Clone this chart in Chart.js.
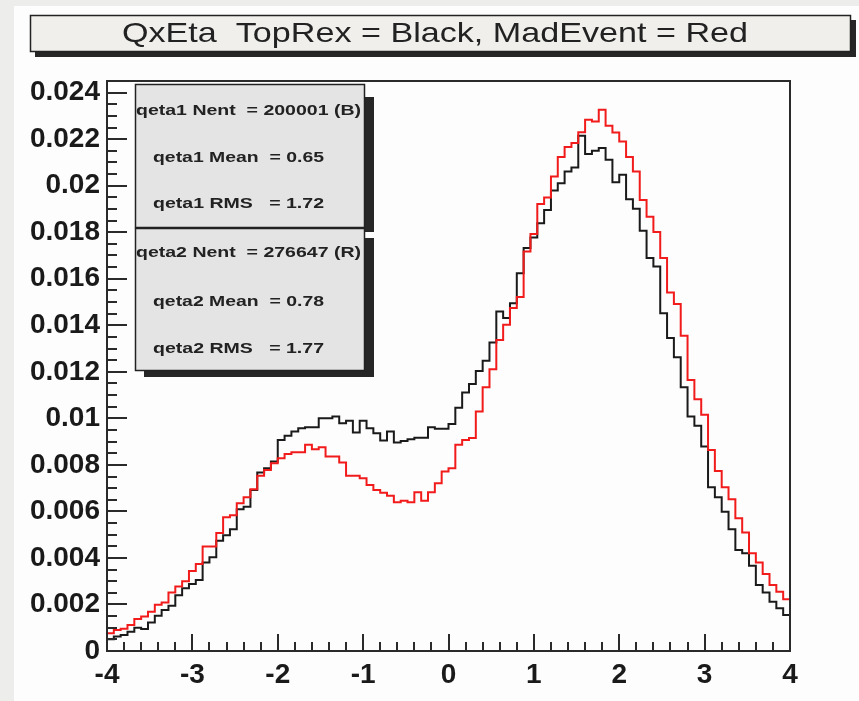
<!DOCTYPE html>
<html>
<head>
<meta charset="utf-8">
<script src="https://cdn.jsdelivr.net/npm/chart.js@4/dist/chart.umd.min.js"></script>
<style>
  html, body { margin: 0; padding: 0; background: #ededeb; }
  #wrap { width: 859px; height: 701px; }
  canvas { display: block; }
</style>
</head>
<body>
<div id="wrap"><canvas id="c" width="859" height="701"></canvas></div>
<script>
// Histogram binning of eta
const etaMin = -4;
const etaMax = 4;
const nBins = 100;

// qeta1 (TopRex, black) — bin contents, normalised
const qeta1 = [
  0.00050, 0.00062, 0.00069, 0.00083, 0.00100, 0.00095, 0.00122, 0.00152, 0.00176, 0.00195,
  0.00240, 0.00270, 0.00288, 0.00305, 0.00380, 0.00403, 0.00474, 0.00498, 0.00523, 0.00609,
  0.00620, 0.00692, 0.00767, 0.00786, 0.00814, 0.00907, 0.00925, 0.00943, 0.00957, 0.00962,
  0.00962, 0.01000, 0.01000, 0.01008, 0.00979, 0.00990, 0.00939, 0.00990, 0.00957, 0.00936,
  0.00905, 0.00943, 0.00896, 0.00903, 0.00910, 0.00917, 0.00917, 0.00962, 0.00955, 0.00955,
  0.00976, 0.01046, 0.01111, 0.01148, 0.01204, 0.01248, 0.01326, 0.01459, 0.01431, 0.01495,
  0.01624, 0.01732, 0.01777, 0.01839, 0.01896, 0.01979, 0.02011, 0.02061, 0.02078, 0.02215,
  0.02136, 0.02150, 0.02162, 0.02111, 0.02015, 0.02047, 0.01942, 0.01901, 0.01806, 0.01689,
  0.01653, 0.01452, 0.01345, 0.01263, 0.01134, 0.01008, 0.00968, 0.00879, 0.00704, 0.00661,
  0.00599, 0.00523, 0.00434, 0.00420, 0.00366, 0.00284, 0.00251, 0.00212, 0.00184, 0.00155
];

// qeta2 (MadEvent, red) — bin contents, normalised
const qeta2 = [
  0.00076, 0.00090, 0.00096, 0.00112, 0.00138, 0.00148, 0.00169, 0.00199, 0.00208, 0.00251,
  0.00277, 0.00300, 0.00344, 0.00374, 0.00449, 0.00449, 0.00507, 0.00575, 0.00584, 0.00635,
  0.00661, 0.00695, 0.00753, 0.00778, 0.00807, 0.00829, 0.00847, 0.00854, 0.00854, 0.00886,
  0.00867, 0.00876, 0.00836, 0.00836, 0.00810, 0.00753, 0.00753, 0.00743, 0.00714, 0.00692,
  0.00680, 0.00667, 0.00639, 0.00646, 0.00639, 0.00682, 0.00646, 0.00682, 0.00721, 0.00771,
  0.00786, 0.00886, 0.00907, 0.00915, 0.01029, 0.01134, 0.01211, 0.01337, 0.01402, 0.01474,
  0.01522, 0.01717, 0.01792, 0.01921, 0.01949, 0.02040, 0.02123, 0.02166, 0.02183, 0.02230,
  0.02283, 0.02276, 0.02326, 0.02258, 0.02229, 0.02190, 0.02123, 0.02061, 0.01939, 0.01867,
  0.01801, 0.01689, 0.01541, 0.01491, 0.01355, 0.01165, 0.01082, 0.01015, 0.00864, 0.00774,
  0.00704, 0.00652, 0.00571, 0.00509, 0.00420, 0.00380, 0.00331, 0.00284, 0.00255, 0.00222
];

// Axis settings
const yMax = 0.0245;
const yMajor = 0.002;
const yMinor = 0.0005;
const xMajor = 1;
const xMinor = 0.2;

// Text content
const titleText = 'QxEta  TopRex = Black, MadEvent = Red';
const stats1 = ['qeta1 Nent  = 200001 (B)', 'qeta1 Mean  = 0.65', 'qeta1 RMS   = 1.72'];
const stats2 = ['qeta2 Nent  = 276647 (R)', 'qeta2 Mean  = 0.78', 'qeta2 RMS   = 1.77'];

// Step points: left edge of each bin, plus the closing upper edge
function histPoints(vals) {
  const w = (etaMax - etaMin) / nBins;
  const pts = vals.map((v, i) => ({ x: etaMin + i * w, y: v }));
  pts.push({ x: etaMax, y: vals[vals.length - 1] });
  return pts;
}

const FONT = '"Liberation Sans", Arial, Helvetica, sans-serif';

function stretchedText(ctx, text, x, y, targetW, font, color, align) {
  ctx.save();
  ctx.font = font;
  ctx.fillStyle = color;
  ctx.textBaseline = 'middle';
  ctx.textAlign = 'left';
  const w = ctx.measureText(text).width;
  const sx = targetW / w;
  let left = x;
  if (align === 'center') left = x - targetW / 2;
  ctx.translate(left, y);
  ctx.scale(sx, 1);
  ctx.fillText(text, 0, 0);
  ctx.restore();
}

function panel(ctx, x0, y0, x1, y1, fill) {
  ctx.save();
  ctx.fillStyle = fill;
  ctx.fillRect(x0, y0, x1 - x0, y1 - y0);
  ctx.strokeStyle = '#222';
  ctx.lineWidth = 1.5;
  ctx.strokeRect(x0 + 0.5, y0 + 0.5, x1 - x0 - 1, y1 - y0 - 1);
  ctx.restore();
}

function shade(ctx, x0, y0, x1, y1) {
  ctx.save();
  ctx.fillStyle = '#262626';
  ctx.fillRect(x0, y0, x1 - x0, y1 - y0);
  ctx.restore();
}

const decorations = {
  id: 'decorations',
  beforeDraw(chart) {
    const ctx = chart.ctx;
    ctx.save();
    ctx.fillStyle = '#ededeb';
    ctx.fillRect(0, 0, chart.width, chart.height);
    ctx.fillStyle = '#fdfdfd';
    ctx.fillRect(14, 6, chart.width - 14, chart.height - 6);
    ctx.restore();
  },
  afterDatasetsDraw(chart) {
    const ctx = chart.ctx;
    const a = chart.chartArea;
    const xs = chart.scales.x, ys = chart.scales.y;
    ctx.save();
    ctx.strokeStyle = '#2a2a2a';
    ctx.lineWidth = 2;
    // frame
    ctx.strokeRect(a.left, a.top, a.right - a.left, a.bottom - a.top);
    // y ticks on the left edge, pointing inward
    ctx.beginPath();
    const nY = Math.round(yMax / yMinor);
    for (let k = 0; k <= nY; k++) {
      const v = k * yMinor;
      const py = Math.round(ys.getPixelForValue(v));
      const major = (k % Math.round(yMajor / yMinor)) === 0;
      const len = major ? 20 : 10;
      ctx.moveTo(a.left, py);
      ctx.lineTo(a.left + len, py);
    }
    // x ticks on the bottom edge, pointing up
    const nX = Math.round((etaMax - etaMin) / xMinor);
    for (let k = 0; k <= nX; k++) {
      const v = etaMin + k * xMinor;
      const px = Math.round(xs.getPixelForValue(v));
      const major = (k % Math.round(xMajor / xMinor)) === 0;
      const len = major ? 17 : 9;
      ctx.moveTo(px, a.bottom);
      ctx.lineTo(px, a.bottom - len);
    }
    ctx.stroke();
    ctx.restore();
  },
  afterDraw(chart) {
    const ctx = chart.ctx;
    // title box with drop shadow
    shade(ctx, 35, 20, 856, 57);
    panel(ctx, 30, 15, 851, 52, '#f0efec');
    stretchedText(ctx, titleText, 435, 34, 626, '28px ' + FONT, '#222', 'center');

    // statistics boxes with drop shadows
    shade(ctx, 144, 97, 374, 232);
    shade(ctx, 144, 238, 374, 377);
    panel(ctx, 135, 84, 365, 228, '#e4e4e4');
    panel(ctx, 135, 228, 365, 371, '#e4e4e4');
    const rows1 = [111, 158, 204];
    const rows2 = [253, 302, 349];
    const font = 'bold 15px ' + FONT;
    stretchedText(ctx, stats1[0], 136, rows1[0], 225, font, '#222', 'left');
    stretchedText(ctx, stats1[1], 153, rows1[1], 171, font, '#222', 'left');
    stretchedText(ctx, stats1[2], 153, rows1[2], 171, font, '#222', 'left');
    stretchedText(ctx, stats2[0], 136, rows2[0], 225, font, '#222', 'left');
    stretchedText(ctx, stats2[1], 153, rows2[1], 171, font, '#222', 'left');
    stretchedText(ctx, stats2[2], 153, rows2[2], 171, font, '#222', 'left');
  }
};

const ctx = document.getElementById('c').getContext('2d');
new Chart(ctx, {
  type: 'line',
  data: {
    datasets: [
      {
        label: 'qeta2',
        data: histPoints(qeta2),
        borderColor: '#f21b1b',
        borderWidth: 2,
        stepped: true,
        pointRadius: 0,
        fill: false
      },
      {
        label: 'qeta1',
        data: histPoints(qeta1),
        borderColor: '#1a1a1a',
        borderWidth: 2,
        stepped: true,
        pointRadius: 0,
        fill: false
      }
    ]
  },
  options: {
    responsive: false,
    animation: false,
    devicePixelRatio: 1,
    parsing: false,
    layout: { padding: { top: 81, right: 69, left: 0, bottom: 0 } },
    plugins: {
      legend: { display: false },
      tooltip: { enabled: false },
      title: { display: false }
    },
    scales: {
      x: {
        type: 'linear',
        min: etaMin,
        max: etaMax,
        grid: { display: false, drawTicks: false },
        border: { display: false },
        ticks: {
          stepSize: xMajor,
          padding: 7,
          color: '#1a1a1a',
          font: { family: FONT, size: 28, weight: 'bold' },
          maxRotation: 0,
          callback: v => String(v)
        },
        afterFit: s => { s.height = 50; }
      },
      y: {
        type: 'linear',
        min: 0,
        max: yMax,
        grid: { display: false, drawTicks: false },
        border: { display: false },
        ticks: {
          stepSize: yMajor,
          includeBounds: false,
          padding: 7,
          color: '#1a1a1a',
          font: { family: FONT, size: 28, weight: 'bold' },
          callback: v => String(Number(v.toFixed(4)))
        },
        afterFit: s => { s.width = 107; }
      }
    }
  },
  plugins: [decorations]
});
</script>
</body>
</html>
